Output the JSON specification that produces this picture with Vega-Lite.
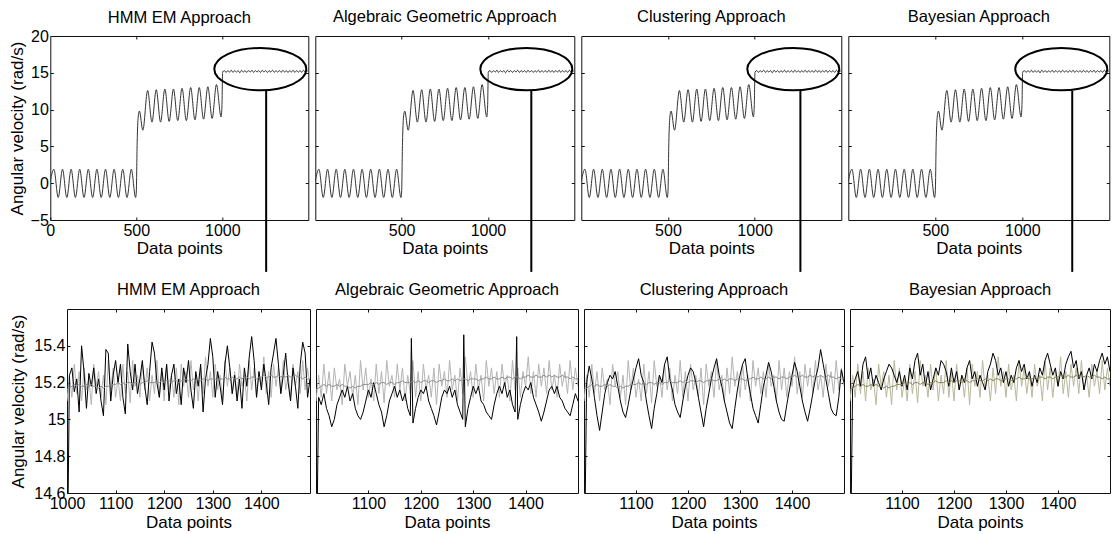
{
  "$schema": "https://vega.github.io/schema/vega-lite/v6.json",
  "background": "white",
  "padding": {"left": 7, "top": 8, "right": 0, "bottom": 0},
  "config": {
    "font": "Liberation Sans",
    "view": {"stroke": "#111", "strokeWidth": 1},
    "line": {"invalid": "filter"},
    "axis": {
      "grid": false, "domain": false, "tickColor": "#111", "tickSize": -3, "tickWidth": 1,
      "labelFontSize": 16, "labelColor": "#000", "labelPadding": 5, "labelFlush": false, "labelOverlap": false,
      "titleFontSize": 17, "titleFontWeight": "normal", "titleColor": "#000", "titlePadding": 3
    },
    "title": {"fontSize": 16.5, "fontWeight": "normal", "frame": "group", "offset": 10, "color": "#000"}
  },
  "datasets": {
    "top": [
      {"x":0,"y":0.3},{"x":21,"y":1.9},{"x":46,"y":-1.95},{"x":71,"y":1.9},{"x":96,"y":-1.95},{"x":121,"y":1.9},{"x":146,"y":-1.95},{"x":171,"y":1.9},{"x":196,"y":-1.95},{"x":221,"y":1.9},{"x":246,"y":-1.95},{"x":271,"y":1.9},{"x":296,"y":-1.95},{"x":321,"y":1.9},{"x":346,"y":-1.95},{"x":371,"y":1.9},{"x":396,"y":-1.95},{"x":421,"y":1.9},{"x":446,"y":-1.95},{"x":471,"y":1.9},{"x":496,"y":-1.95},
      {"x":500,"y":-1.2},{"x":505,"y":5.5},{"x":511,"y":9.0},{"x":518,"y":9.8},{"x":538,"y":7.2},{"x":566,"y":12.6},{"x":591,"y":8.3},{"x":616,"y":12.7},{"x":641,"y":8.3},{"x":666,"y":12.8},{"x":691,"y":8.4},{"x":716,"y":12.8},{"x":741,"y":8.5},{"x":766,"y":12.9},{"x":791,"y":8.5},{"x":816,"y":13.0},{"x":841,"y":8.6},{"x":866,"y":13.0},{"x":891,"y":8.7},{"x":916,"y":13.1},{"x":941,"y":8.8},{"x":966,"y":13.4},{"x":993,"y":9.0},{"x":998,"y":10.5},
      {"x":1002,"y":15.1},{"x":1012,"y":15.3},{"x":1022,"y":15.05},{"x":1032,"y":15.3},{"x":1042,"y":15.1},{"x":1052,"y":15.35},{"x":1062,"y":15.05},{"x":1072,"y":15.3},{"x":1082,"y":15.1},{"x":1092,"y":15.3},{"x":1102,"y":15.0},{"x":1112,"y":15.35},{"x":1122,"y":15.1},{"x":1132,"y":15.3},{"x":1142,"y":15.05},{"x":1152,"y":15.3},{"x":1162,"y":15.1},{"x":1172,"y":15.35},{"x":1182,"y":15.05},{"x":1192,"y":15.3},{"x":1202,"y":15.1},{"x":1212,"y":15.3},{"x":1222,"y":15.05},{"x":1232,"y":15.35},{"x":1242,"y":15.1},{"x":1252,"y":15.3},{"x":1262,"y":15.05},{"x":1272,"y":15.3},{"x":1282,"y":15.1},{"x":1292,"y":15.35},{"x":1302,"y":15.05},{"x":1312,"y":15.3},{"x":1322,"y":15.1},{"x":1332,"y":15.3},{"x":1342,"y":15.05},{"x":1352,"y":15.35},{"x":1362,"y":15.1},{"x":1372,"y":15.3},{"x":1382,"y":15.05},{"x":1392,"y":15.3},{"x":1402,"y":15.1},{"x":1412,"y":15.35},{"x":1422,"y":15.05},{"x":1432,"y":15.3},{"x":1442,"y":15.1},{"x":1452,"y":15.3},{"x":1462,"y":15.05},{"x":1472,"y":15.35},{"x":1482,"y":15.1},{"x":1492,"y":15.3},{"x":1500,"y":15.15}
    ],
    "zoom": [
      {"x":1000,"m":15.10,"t":15.16,"h":14.0,"g":14.0,"c":14.0,"b":14.0},
      {"x":1005,"m":15.24,"t":15.17,"h":15.24,"g":15.12,"c":15.20,"b":15.17},
      {"x":1010,"m":15.12,"t":15.18,"h":15.28,"g":15.08,"c":15.29,"b":15.22},
      {"x":1015,"m":15.30,"t":15.19,"h":15.15,"g":15.14,"c":15.22,"b":15.26},
      {"x":1020,"m":15.14,"t":15.18,"h":15.22,"g":15.06,"c":15.12,"b":15.18},
      {"x":1025,"m":15.26,"t":15.19,"h":15.04,"g":15.02,"c":15.02,"b":15.30},
      {"x":1030,"m":15.10,"t":15.18,"h":15.40,"g":14.96,"c":14.94,"b":15.34},
      {"x":1035,"m":15.28,"t":15.18,"h":15.26,"g":15.00,"c":15.04,"b":15.22},
      {"x":1040,"m":15.16,"t":15.19,"h":15.06,"g":15.08,"c":15.14,"b":15.28},
      {"x":1045,"m":15.22,"t":15.18,"h":15.25,"g":15.12,"c":15.20,"b":15.18},
      {"x":1050,"m":15.08,"t":15.19,"h":15.18,"g":15.16,"c":15.24,"b":15.24},
      {"x":1055,"m":15.30,"t":15.18,"h":15.28,"g":15.12,"c":15.22,"b":15.20},
      {"x":1060,"m":15.18,"t":15.18,"h":15.14,"g":15.18,"c":15.26,"b":15.16},
      {"x":1065,"m":15.26,"t":15.17,"h":15.22,"g":15.10,"c":15.18,"b":15.22},
      {"x":1070,"m":15.12,"t":15.18,"h":15.10,"g":15.14,"c":15.10,"b":15.26},
      {"x":1075,"m":15.24,"t":15.17,"h":15.02,"g":15.06,"c":15.04,"b":15.30},
      {"x":1080,"m":15.08,"t":15.18,"h":15.38,"g":15.02,"c":15.01,"b":15.28},
      {"x":1085,"m":15.32,"t":15.18,"h":15.36,"g":15.00,"c":15.08,"b":15.24},
      {"x":1090,"m":15.16,"t":15.19,"h":15.10,"g":15.04,"c":15.16,"b":15.20},
      {"x":1095,"m":15.28,"t":15.19,"h":15.24,"g":15.10,"c":15.22,"b":15.26},
      {"x":1100,"m":15.12,"t":15.19,"h":15.32,"g":15.16,"c":15.28,"b":15.18},
      {"x":1105,"m":15.22,"t":15.20,"h":15.20,"g":15.12,"c":15.33,"b":15.24},
      {"x":1110,"m":15.10,"t":15.19,"h":15.30,"g":15.20,"c":15.24,"b":15.16},
      {"x":1115,"m":15.30,"t":15.20,"h":15.12,"g":15.14,"c":15.20,"b":15.28},
      {"x":1120,"m":15.14,"t":15.19,"h":15.03,"g":15.08,"c":15.10,"b":15.22},
      {"x":1125,"m":15.26,"t":15.20,"h":15.41,"g":15.04,"c":15.02,"b":15.32},
      {"x":1130,"m":15.09,"t":15.20,"h":15.26,"g":14.96,"c":14.95,"b":15.36},
      {"x":1135,"m":15.32,"t":15.19,"h":15.16,"g":15.02,"c":15.06,"b":15.24},
      {"x":1140,"m":15.18,"t":15.20,"h":15.30,"g":15.10,"c":15.14,"b":15.30},
      {"x":1145,"m":15.24,"t":15.20,"h":15.14,"g":15.14,"c":15.24,"b":15.18},
      {"x":1150,"m":15.12,"t":15.19,"h":15.22,"g":15.18,"c":15.20,"b":15.26},
      {"x":1155,"m":15.30,"t":15.20,"h":15.32,"g":15.12,"c":15.30,"b":15.16},
      {"x":1160,"m":15.16,"t":15.20,"h":15.18,"g":15.16,"c":15.34,"b":15.22},
      {"x":1165,"m":15.28,"t":15.21,"h":15.08,"g":15.10,"c":15.22,"b":15.28},
      {"x":1170,"m":15.10,"t":15.20,"h":15.26,"g":15.14,"c":15.16,"b":15.24},
      {"x":1175,"m":15.24,"t":15.20,"h":15.42,"g":15.06,"c":15.08,"b":15.32},
      {"x":1180,"m":15.14,"t":15.20,"h":15.36,"g":15.02,"c":15.04,"b":15.30},
      {"x":1182,"g":15.44},
      {"x":1185,"m":15.32,"t":15.21,"h":15.20,"g":14.98,"c":15.01,"b":15.26},
      {"x":1190,"m":15.12,"t":15.20,"h":15.12,"g":15.06,"c":15.10,"b":15.18},
      {"x":1195,"m":15.26,"t":15.21,"h":15.28,"g":15.12,"c":15.18,"b":15.28},
      {"x":1200,"m":15.10,"t":15.20,"h":15.16,"g":15.16,"c":15.24,"b":15.20},
      {"x":1205,"m":15.30,"t":15.21,"h":15.30,"g":15.14,"c":15.28,"b":15.26},
      {"x":1210,"m":15.16,"t":15.21,"h":15.10,"g":15.18,"c":15.26,"b":15.16},
      {"x":1215,"m":15.24,"t":15.20,"h":15.24,"g":15.10,"c":15.20,"b":15.24},
      {"x":1220,"m":15.12,"t":15.21,"h":15.30,"g":15.06,"c":15.12,"b":15.20},
      {"x":1225,"m":15.28,"t":15.21,"h":15.14,"g":15.02,"c":15.04,"b":15.28},
      {"x":1230,"m":15.08,"t":15.20,"h":15.22,"g":14.97,"c":14.96,"b":15.32},
      {"x":1235,"m":15.30,"t":15.21,"h":15.08,"g":15.04,"c":15.06,"b":15.22},
      {"x":1240,"m":15.18,"t":15.21,"h":15.28,"g":15.12,"c":15.14,"b":15.26},
      {"x":1245,"m":15.26,"t":15.22,"h":15.20,"g":15.16,"c":15.22,"b":15.18},
      {"x":1250,"m":15.12,"t":15.21,"h":15.32,"g":15.14,"c":15.28,"b":15.24},
      {"x":1255,"m":15.32,"t":15.21,"h":15.16,"g":15.18,"c":15.33,"b":15.20},
      {"x":1260,"m":15.16,"t":15.22,"h":15.06,"g":15.12,"c":15.24,"b":15.16},
      {"x":1265,"m":15.24,"t":15.21,"h":15.26,"g":15.16,"c":15.18,"b":15.26},
      {"x":1270,"m":15.10,"t":15.22,"h":15.18,"g":15.08,"c":15.10,"b":15.30},
      {"x":1275,"m":15.28,"t":15.21,"h":15.30,"g":15.04,"c":15.04,"b":15.36},
      {"x":1280,"m":15.14,"t":15.22,"h":15.04,"g":15.00,"c":14.98,"b":15.32},
      {"x":1282,"g":15.46},
      {"x":1285,"m":15.34,"t":15.22,"h":15.22,"g":14.96,"c":14.95,"b":15.24},
      {"x":1290,"m":15.18,"t":15.21,"h":15.30,"g":15.06,"c":15.06,"b":15.28},
      {"x":1295,"m":15.26,"t":15.22,"h":15.44,"g":15.12,"c":15.16,"b":15.20},
      {"x":1300,"m":15.12,"t":15.22,"h":15.34,"g":15.18,"c":15.24,"b":15.26},
      {"x":1305,"m":15.30,"t":15.22,"h":15.12,"g":15.14,"c":15.30,"b":15.18},
      {"x":1310,"m":15.16,"t":15.21,"h":15.26,"g":15.18,"c":15.33,"b":15.24},
      {"x":1315,"m":15.24,"t":15.22,"h":15.18,"g":15.10,"c":15.22,"b":15.20},
      {"x":1320,"m":15.10,"t":15.22,"h":15.08,"g":15.08,"c":15.14,"b":15.28},
      {"x":1325,"m":15.32,"t":15.23,"h":15.30,"g":15.04,"c":15.06,"b":15.32},
      {"x":1330,"m":15.18,"t":15.22,"h":15.40,"g":15.02,"c":15.02,"b":15.26},
      {"x":1335,"m":15.28,"t":15.22,"h":15.28,"g":15.00,"c":14.98,"b":15.30},
      {"x":1340,"m":15.14,"t":15.23,"h":15.14,"g":15.08,"c":15.08,"b":15.22},
      {"x":1345,"m":15.26,"t":15.22,"h":15.24,"g":15.14,"c":15.18,"b":15.26},
      {"x":1350,"m":15.12,"t":15.22,"h":15.10,"g":15.18,"c":15.24,"b":15.18},
      {"x":1355,"m":15.30,"t":15.23,"h":15.22,"g":15.14,"c":15.31,"b":15.24},
      {"x":1360,"m":15.18,"t":15.22,"h":15.06,"g":15.20,"c":15.26,"b":15.20},
      {"x":1365,"m":15.24,"t":15.23,"h":15.28,"g":15.12,"c":15.18,"b":15.28},
      {"x":1370,"m":15.10,"t":15.23,"h":15.18,"g":15.16,"c":15.10,"b":15.24},
      {"x":1375,"m":15.32,"t":15.22,"h":15.34,"g":15.08,"c":15.04,"b":15.32},
      {"x":1380,"m":15.16,"t":15.23,"h":15.45,"g":15.04,"c":15.00,"b":15.36},
      {"x":1383,"g":15.45},
      {"x":1385,"m":15.28,"t":15.23,"h":15.32,"g":15.00,"c":14.99,"b":15.30},
      {"x":1390,"m":15.12,"t":15.22,"h":15.12,"g":15.08,"c":15.08,"b":15.24},
      {"x":1395,"m":15.26,"t":15.23,"h":15.26,"g":15.14,"c":15.16,"b":15.28},
      {"x":1400,"m":15.18,"t":15.23,"h":15.16,"g":15.18,"c":15.24,"b":15.18},
      {"x":1405,"m":15.34,"t":15.24,"h":15.30,"g":15.16,"c":15.31,"b":15.26},
      {"x":1410,"m":15.14,"t":15.23,"h":15.20,"g":15.20,"c":15.26,"b":15.22},
      {"x":1415,"m":15.26,"t":15.23,"h":15.08,"g":15.12,"c":15.18,"b":15.30},
      {"x":1420,"m":15.12,"t":15.24,"h":15.28,"g":15.08,"c":15.10,"b":15.34},
      {"x":1425,"m":15.30,"t":15.23,"h":15.36,"g":15.04,"c":15.04,"b":15.37},
      {"x":1430,"m":15.18,"t":15.23,"h":15.44,"g":14.99,"c":14.99,"b":15.28},
      {"x":1435,"m":15.28,"t":15.24,"h":15.30,"g":15.04,"c":15.06,"b":15.32},
      {"x":1440,"m":15.14,"t":15.23,"h":15.14,"g":15.10,"c":15.14,"b":15.22},
      {"x":1445,"m":15.32,"t":15.24,"h":15.24,"g":15.16,"c":15.22,"b":15.26},
      {"x":1450,"m":15.16,"t":15.23,"h":15.36,"g":15.18,"c":15.28,"b":15.16},
      {"x":1455,"m":15.24,"t":15.24,"h":15.20,"g":15.14,"c":15.38,"b":15.24},
      {"x":1460,"m":15.12,"t":15.23,"h":15.10,"g":15.18,"c":15.30,"b":15.28},
      {"x":1465,"m":15.30,"t":15.23,"h":15.28,"g":15.12,"c":15.22,"b":15.22},
      {"x":1470,"m":15.18,"t":15.24,"h":15.18,"g":15.10,"c":15.14,"b":15.30},
      {"x":1475,"m":15.26,"t":15.23,"h":15.06,"g":15.06,"c":15.06,"b":15.26},
      {"x":1480,"m":15.14,"t":15.23,"h":15.30,"g":15.04,"c":15.03,"b":15.32},
      {"x":1485,"m":15.32,"t":15.22,"h":15.42,"g":15.02,"c":15.02,"b":15.36},
      {"x":1490,"m":15.16,"t":15.23,"h":15.36,"g":15.08,"c":15.12,"b":15.30},
      {"x":1495,"m":15.28,"t":15.22,"h":15.12,"g":15.14,"c":15.27,"b":15.34},
      {"x":1500,"m":15.18,"t":15.22,"h":15.22,"g":15.10,"c":15.20,"b":15.26}
    ]
  },
  "concat": [
    {
      "spacing": 3,
      "hconcat": [
        {
          "width": 258, "height": 184, "title": {"text": "HMM EM Approach", "offset": 2},
          "resolve": {"axis": {"x": "independent", "y": "independent"}},
          "layer": [
            {"data": {"name": "top"}, "mark": {"type": "line", "color": "#333", "strokeWidth": 1, "interpolate": "monotone", "clip": true},
             "encoding": {
               "x": {"field": "x", "type": "quantitative", "scale": {"domain": [0, 1500], "nice": false}, "axis": {"values": [0, 500, 1000], "format": "d", "title": "Data points", "titlePadding": 2}},
               "y": {"field": "y", "type": "quantitative", "scale": {"domain": [-5, 20], "nice": false}, "axis": {"values": [-5, 0, 5, 10, 15, 20], "format": "d", "title": "Angular velocity (rad/s)", "titlePadding": 4}}}},
            {"data": {"values": [{"x": 1221, "y": 15.5}]}, "mark": {"type": "point", "shape": "M-1,0A1,0.46,0,1,1,1,0A1,0.46,0,1,1,-1,0Z", "size": 8464, "filled": false, "stroke": "#000", "strokeWidth": 2, "opacity": 1},
             "encoding": {
               "x": {"field": "x", "type": "quantitative", "scale": {"domain": [0, 1500], "nice": false}, "axis": {"orient": "top", "values": [500, 1000], "labels": false, "title": null}},
               "y": {"field": "y", "type": "quantitative", "scale": {"domain": [-5, 20], "nice": false}, "axis": {"orient": "right", "values": [0, 5, 10, 15], "labels": false, "title": null}}}},
            {"data": {"values": [{"x": 1255, "y": 12.6, "y2": -12.05}]}, "mark": {"type": "rule", "color": "#000", "strokeWidth": 2},
             "encoding": {
               "x": {"field": "x", "type": "quantitative", "scale": {"domain": [0, 1500], "nice": false}, "axis": null},
               "y": {"field": "y", "type": "quantitative", "scale": {"domain": [-5, 20], "nice": false}, "axis": null},
               "y2": {"field": "y2"}}}
          ]
        },
        {
          "width": 259, "height": 184, "title": "Algebraic Geometric Approach",
          "resolve": {"axis": {"x": "independent", "y": "independent"}},
          "layer": [
            {"data": {"name": "top"}, "mark": {"type": "line", "color": "#333", "strokeWidth": 1, "interpolate": "monotone", "clip": true},
             "encoding": {
               "x": {"field": "x", "type": "quantitative", "scale": {"domain": [0, 1500], "nice": false}, "axis": {"values": [500, 1000], "format": "d", "title": "Data points", "titlePadding": 2}},
               "y": {"field": "y", "type": "quantitative", "scale": {"domain": [-5, 20], "nice": false}, "axis": {"values": [0, 5, 10, 15], "labels": false, "title": null}}}},
            {"data": {"values": [{"x": 1222, "y": 15.5}]}, "mark": {"type": "point", "shape": "M-1,0A1,0.46,0,1,1,1,0A1,0.46,0,1,1,-1,0Z", "size": 8464, "filled": false, "stroke": "#000", "strokeWidth": 2, "opacity": 1},
             "encoding": {
               "x": {"field": "x", "type": "quantitative", "scale": {"domain": [0, 1500], "nice": false}, "axis": {"orient": "top", "values": [500, 1000], "labels": false, "title": null}},
               "y": {"field": "y", "type": "quantitative", "scale": {"domain": [-5, 20], "nice": false}, "axis": {"orient": "right", "values": [0, 5, 10, 15], "labels": false, "title": null}}}},
            {"data": {"values": [{"x": 1251, "y": 12.6, "y2": -12.05}]}, "mark": {"type": "rule", "color": "#000", "strokeWidth": 2},
             "encoding": {
               "x": {"field": "x", "type": "quantitative", "scale": {"domain": [0, 1500], "nice": false}, "axis": null},
               "y": {"field": "y", "type": "quantitative", "scale": {"domain": [-5, 20], "nice": false}, "axis": null},
               "y2": {"field": "y2"}}}
          ]
        },
        {
          "width": 260, "height": 184, "title": "Clustering Approach",
          "resolve": {"axis": {"x": "independent", "y": "independent"}},
          "layer": [
            {"data": {"name": "top"}, "mark": {"type": "line", "color": "#333", "strokeWidth": 1, "interpolate": "monotone", "clip": true},
             "encoding": {
               "x": {"field": "x", "type": "quantitative", "scale": {"domain": [0, 1500], "nice": false}, "axis": {"values": [500, 1000], "format": "d", "title": "Data points", "titlePadding": 2}},
               "y": {"field": "y", "type": "quantitative", "scale": {"domain": [-5, 20], "nice": false}, "axis": {"values": [0, 5, 10, 15], "labels": false, "title": null}}}},
            {"data": {"values": [{"x": 1223, "y": 15.5}]}, "mark": {"type": "point", "shape": "M-1,0A1,0.46,0,1,1,1,0A1,0.46,0,1,1,-1,0Z", "size": 8464, "filled": false, "stroke": "#000", "strokeWidth": 2, "opacity": 1},
             "encoding": {
               "x": {"field": "x", "type": "quantitative", "scale": {"domain": [0, 1500], "nice": false}, "axis": {"orient": "top", "values": [500, 1000], "labels": false, "title": null}},
               "y": {"field": "y", "type": "quantitative", "scale": {"domain": [-5, 20], "nice": false}, "axis": {"orient": "right", "values": [0, 5, 10, 15], "labels": false, "title": null}}}},
            {"data": {"values": [{"x": 1264, "y": 12.6, "y2": -12.05}]}, "mark": {"type": "rule", "color": "#000", "strokeWidth": 2},
             "encoding": {
               "x": {"field": "x", "type": "quantitative", "scale": {"domain": [0, 1500], "nice": false}, "axis": null},
               "y": {"field": "y", "type": "quantitative", "scale": {"domain": [-5, 20], "nice": false}, "axis": null},
               "y2": {"field": "y2"}}}
          ]
        },
        {
          "width": 261, "height": 184, "title": "Bayesian Approach",
          "resolve": {"axis": {"x": "independent", "y": "independent"}},
          "layer": [
            {"data": {"name": "top"}, "mark": {"type": "line", "color": "#333", "strokeWidth": 1, "interpolate": "monotone", "clip": true},
             "encoding": {
               "x": {"field": "x", "type": "quantitative", "scale": {"domain": [0, 1500], "nice": false}, "axis": {"values": [500, 1000], "format": "d", "title": "Data points", "titlePadding": 2}},
               "y": {"field": "y", "type": "quantitative", "scale": {"domain": [-5, 20], "nice": false}, "axis": {"values": [0, 5, 10, 15], "labels": false, "title": null}}}},
            {"data": {"values": [{"x": 1224, "y": 15.5}]}, "mark": {"type": "point", "shape": "M-1,0A1,0.46,0,1,1,1,0A1,0.46,0,1,1,-1,0Z", "size": 8464, "filled": false, "stroke": "#000", "strokeWidth": 2, "opacity": 1},
             "encoding": {
               "x": {"field": "x", "type": "quantitative", "scale": {"domain": [0, 1500], "nice": false}, "axis": {"orient": "top", "values": [500, 1000], "labels": false, "title": null}},
               "y": {"field": "y", "type": "quantitative", "scale": {"domain": [-5, 20], "nice": false}, "axis": {"orient": "right", "values": [0, 5, 10, 15], "labels": false, "title": null}}}},
            {"data": {"values": [{"x": 1287, "y": 12.6, "y2": -12.05}]}, "mark": {"type": "rule", "color": "#000", "strokeWidth": 2},
             "encoding": {
               "x": {"field": "x", "type": "quantitative", "scale": {"domain": [0, 1500], "nice": false}, "axis": null},
               "y": {"field": "y", "type": "quantitative", "scale": {"domain": [-5, 20], "nice": false}, "axis": null},
               "y2": {"field": "y2"}}},
            {"data": {"values": [{"x": 1600, "y": 0}]}, "mark": {"type": "point", "size": 1, "opacity": 0},
             "encoding": {
               "x": {"field": "x", "type": "quantitative", "scale": {"domain": [0, 1500], "nice": false}, "axis": null},
               "y": {"field": "y", "type": "quantitative", "scale": {"domain": [-5, 20], "nice": false}, "axis": null}}}
          ]
        }
      ]
    },
    {
      "spacing": 4,
      "hconcat": [
        {
          "width": 243, "height": 184, "title": "HMM EM Approach",
          "data": {"name": "zoom"},
          "resolve": {"axis": {"x": "independent", "y": "independent"}},
          "layer": [
            {"mark": {"type": "line", "color": "#b4b4b4", "strokeWidth": 1, "clip": true, "invalid": "filter"},
             "encoding": {
               "x": {"field": "x", "type": "quantitative", "scale": {"domain": [1000, 1500], "nice": false}, "axis": {"values": [1000, 1100, 1200, 1300, 1400], "format": "d", "title": "Data points"}},
               "y": {"field": "m", "type": "quantitative", "scale": {"domain": [14.6, 15.6], "nice": false, "zero": false}, "axis": {"values": [14.6, 14.8, 15, 15.2, 15.4], "format": "~g", "title": "Angular velocity (rad/s)", "titlePadding": 6}}}},
            {"mark": {"type": "line", "color": "#000", "strokeWidth": 1, "clip": true, "invalid": "filter"},
             "encoding": {
               "x": {"field": "x", "type": "quantitative", "scale": {"domain": [1000, 1500], "nice": false}, "axis": {"orient": "top", "values": [1100, 1200, 1300, 1400], "labels": false, "title": null}},
               "y": {"field": "h", "type": "quantitative", "scale": {"domain": [14.6, 15.6], "nice": false, "zero": false}, "axis": {"orient": "right", "values": [14.8, 15, 15.2, 15.4], "labels": false, "title": null}}}},
            {"mark": {"type": "line", "color": "#8c8c8c", "strokeWidth": 1, "clip": true, "invalid": "filter"},
             "encoding": {
               "x": {"field": "x", "type": "quantitative", "scale": {"domain": [1000, 1500], "nice": false}, "axis": null},
               "y": {"field": "t", "type": "quantitative", "scale": {"domain": [14.6, 15.6], "nice": false, "zero": false}, "axis": null}}}
          ]
        },
        {
          "width": 262, "height": 184, "title": "Algebraic Geometric Approach",
          "data": {"name": "zoom"},
          "resolve": {"axis": {"x": "independent", "y": "independent"}},
          "layer": [
            {"mark": {"type": "line", "color": "#b4b4b4", "strokeWidth": 1, "clip": true, "invalid": "filter"},
             "encoding": {
               "x": {"field": "x", "type": "quantitative", "scale": {"domain": [1000, 1500], "nice": false}, "axis": {"values": [1100, 1200, 1300, 1400], "format": "d", "title": "Data points"}},
               "y": {"field": "m", "type": "quantitative", "scale": {"domain": [14.6, 15.6], "nice": false, "zero": false}, "axis": {"values": [14.8, 15, 15.2, 15.4], "labels": false, "title": null}}}},
            {"mark": {"type": "line", "color": "#000", "strokeWidth": 1, "clip": true, "invalid": "filter"},
             "encoding": {
               "x": {"field": "x", "type": "quantitative", "scale": {"domain": [1000, 1500], "nice": false}, "axis": {"orient": "top", "values": [1100, 1200, 1300, 1400], "labels": false, "title": null}},
               "y": {"field": "g", "type": "quantitative", "scale": {"domain": [14.6, 15.6], "nice": false, "zero": false}, "axis": {"orient": "right", "values": [14.8, 15, 15.2, 15.4], "labels": false, "title": null}}}},
            {"mark": {"type": "line", "color": "#8c8c8c", "strokeWidth": 1, "clip": true, "invalid": "filter"},
             "encoding": {
               "x": {"field": "x", "type": "quantitative", "scale": {"domain": [1000, 1500], "nice": false}, "axis": null},
               "y": {"field": "t", "type": "quantitative", "scale": {"domain": [14.6, 15.6], "nice": false, "zero": false}, "axis": null}}}
          ]
        },
        {
          "width": 260, "height": 184, "title": "Clustering Approach",
          "data": {"name": "zoom"},
          "resolve": {"axis": {"x": "independent", "y": "independent"}},
          "layer": [
            {"mark": {"type": "line", "color": "#b4b4b4", "strokeWidth": 1, "clip": true, "invalid": "filter"},
             "encoding": {
               "x": {"field": "x", "type": "quantitative", "scale": {"domain": [1000, 1500], "nice": false}, "axis": {"values": [1100, 1200, 1300, 1400], "format": "d", "title": "Data points"}},
               "y": {"field": "m", "type": "quantitative", "scale": {"domain": [14.6, 15.6], "nice": false, "zero": false}, "axis": {"values": [14.8, 15, 15.2, 15.4], "labels": false, "title": null}}}},
            {"mark": {"type": "line", "color": "#000", "strokeWidth": 1, "clip": true, "invalid": "filter"},
             "encoding": {
               "x": {"field": "x", "type": "quantitative", "scale": {"domain": [1000, 1500], "nice": false}, "axis": {"orient": "top", "values": [1100, 1200, 1300, 1400], "labels": false, "title": null}},
               "y": {"field": "c", "type": "quantitative", "scale": {"domain": [14.6, 15.6], "nice": false, "zero": false}, "axis": {"orient": "right", "values": [14.8, 15, 15.2, 15.4], "labels": false, "title": null}}}},
            {"mark": {"type": "line", "color": "#8c8c8c", "strokeWidth": 1, "clip": true, "invalid": "filter"},
             "encoding": {
               "x": {"field": "x", "type": "quantitative", "scale": {"domain": [1000, 1500], "nice": false}, "axis": null},
               "y": {"field": "t", "type": "quantitative", "scale": {"domain": [14.6, 15.6], "nice": false, "zero": false}, "axis": null}}}
          ]
        },
        {
          "width": 260, "height": 184, "title": "Bayesian Approach",
          "data": {"name": "zoom"},
          "resolve": {"axis": {"x": "independent", "y": "independent"}},
          "layer": [
            {"mark": {"type": "line", "color": "#b8b89c", "strokeWidth": 1, "clip": true, "invalid": "filter"},
             "encoding": {
               "x": {"field": "x", "type": "quantitative", "scale": {"domain": [1000, 1500], "nice": false}, "axis": {"values": [1100, 1200, 1300, 1400], "format": "d", "title": "Data points"}},
               "y": {"field": "m", "type": "quantitative", "scale": {"domain": [14.6, 15.6], "nice": false, "zero": false}, "axis": {"values": [14.8, 15, 15.2, 15.4], "labels": false, "title": null}}}},
            {"mark": {"type": "line", "color": "#000", "strokeWidth": 1, "clip": true, "invalid": "filter"},
             "encoding": {
               "x": {"field": "x", "type": "quantitative", "scale": {"domain": [1000, 1500], "nice": false}, "axis": {"orient": "top", "values": [1100, 1200, 1300, 1400], "labels": false, "title": null}},
               "y": {"field": "b", "type": "quantitative", "scale": {"domain": [14.6, 15.6], "nice": false, "zero": false}, "axis": {"orient": "right", "values": [14.8, 15, 15.2, 15.4], "labels": false, "title": null}}}},
            {"mark": {"type": "line", "color": "#84845e", "strokeWidth": 1, "clip": true, "invalid": "filter"},
             "encoding": {
               "x": {"field": "x", "type": "quantitative", "scale": {"domain": [1000, 1500], "nice": false}, "axis": null},
               "y": {"field": "t", "type": "quantitative", "scale": {"domain": [14.6, 15.6], "nice": false, "zero": false}, "axis": null}}}
          ]
        }
      ]
    }
  ],
  "columns": 1,
  "center": true,
  "spacing": 7
}
